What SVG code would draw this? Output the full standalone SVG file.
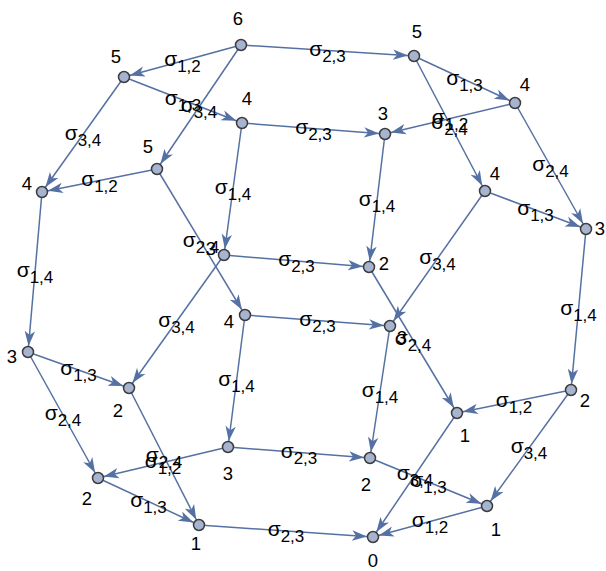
<svg xmlns="http://www.w3.org/2000/svg" width="606" height="571" viewBox="0 0 606 571">
<style>
.e{stroke:#5571a3;stroke-width:1.5;fill:none;marker-end:url(#ah)}
.el{font-family:"Liberation Sans",Arial,sans-serif;font-size:21px;fill:#000;text-anchor:middle}
.sub{font-size:17px}
.nd{fill:#a7b4d0;stroke:#3c3c3c;stroke-width:1.5}
.nl{font-family:"Liberation Sans",Arial,sans-serif;font-size:18.5px;fill:#000;text-anchor:middle}
</style>
<defs>
<marker id="ah" viewBox="0 0 22 12" markerWidth="22" markerHeight="12" refX="21" refY="6" orient="auto" markerUnits="userSpaceOnUse">
<path d="M15,6 L0,0.8 L4,6 L0,11.2 Z" fill="#5571a3"/>
</marker>
</defs>
<rect width="606" height="571" fill="#fff"/>
<g id="connectors">
<line class="e" x1="241" y1="45" x2="124" y2="77"/>
<line class="e" x1="241" y1="45" x2="414" y2="56"/>
<line class="e" x1="241" y1="45" x2="157" y2="169"/>
<line class="e" x1="124" y1="77" x2="42" y2="192"/>
<line class="e" x1="124" y1="77" x2="242" y2="123"/>
<line class="e" x1="414" y1="56" x2="515" y2="103"/>
<line class="e" x1="414" y1="56" x2="485" y2="191"/>
<line class="e" x1="515" y1="103" x2="385" y2="134"/>
<line class="e" x1="515" y1="103" x2="586" y2="229"/>
<line class="e" x1="242" y1="123" x2="385" y2="134"/>
<line class="e" x1="242" y1="123" x2="224" y2="255"/>
<line class="e" x1="157" y1="169" x2="42" y2="192"/>
<line class="e" x1="157" y1="169" x2="245" y2="315"/>
<line class="e" x1="385" y1="134" x2="369" y2="267"/>
<line class="e" x1="485" y1="191" x2="586" y2="229"/>
<line class="e" x1="485" y1="191" x2="390" y2="326"/>
<line class="e" x1="42" y1="192" x2="28" y2="352"/>
<line class="e" x1="586" y1="229" x2="571" y2="390"/>
<line class="e" x1="224" y1="255" x2="369" y2="267"/>
<line class="e" x1="224" y1="255" x2="129" y2="388"/>
<line class="e" x1="369" y1="267" x2="457" y2="413"/>
<line class="e" x1="245" y1="315" x2="390" y2="326"/>
<line class="e" x1="245" y1="315" x2="228" y2="447"/>
<line class="e" x1="390" y1="326" x2="370" y2="458"/>
<line class="e" x1="28" y1="352" x2="129" y2="388"/>
<line class="e" x1="28" y1="352" x2="98" y2="478"/>
<line class="e" x1="571" y1="390" x2="457" y2="413"/>
<line class="e" x1="571" y1="390" x2="487" y2="506"/>
<line class="e" x1="129" y1="388" x2="199" y2="525"/>
<line class="e" x1="228" y1="447" x2="98" y2="478"/>
<line class="e" x1="228" y1="447" x2="370" y2="458"/>
<line class="e" x1="370" y1="458" x2="487" y2="506"/>
<line class="e" x1="457" y1="413" x2="373" y2="537"/>
<line class="e" x1="98" y1="478" x2="199" y2="525"/>
<line class="e" x1="487" y1="506" x2="373" y2="537"/>
<line class="e" x1="199" y1="525" x2="373" y2="537"/>
<g id="edge-labels">
<text class="el" x="182.5" y="66">σ<tspan class="sub" dy="6">1,2</tspan></text>
<text class="el" x="327.5" y="55.5">σ<tspan class="sub" dy="6">2,3</tspan></text>
<text class="el" x="199" y="112">σ<tspan class="sub" dy="6">3,4</tspan></text>
<text class="el" x="83" y="139.5">σ<tspan class="sub" dy="6">3,4</tspan></text>
<text class="el" x="183" y="105">σ<tspan class="sub" dy="6">1,3</tspan></text>
<text class="el" x="464.5" y="84.5">σ<tspan class="sub" dy="6">1,3</tspan></text>
<text class="el" x="449.5" y="128.5">σ<tspan class="sub" dy="6">2,4</tspan></text>
<text class="el" x="450" y="123.5">σ<tspan class="sub" dy="6">1,2</tspan></text>
<text class="el" x="550.5" y="171">σ<tspan class="sub" dy="6">2,4</tspan></text>
<text class="el" x="313.5" y="133.5">σ<tspan class="sub" dy="6">2,3</tspan></text>
<text class="el" x="233" y="194">σ<tspan class="sub" dy="6">1,4</tspan></text>
<text class="el" x="99.5" y="185.5">σ<tspan class="sub" dy="6">1,2</tspan></text>
<text class="el" x="201" y="247">σ<tspan class="sub" dy="6">2,4</tspan></text>
<text class="el" x="377" y="205.5">σ<tspan class="sub" dy="6">1,4</tspan></text>
<text class="el" x="535.5" y="215">σ<tspan class="sub" dy="6">1,3</tspan></text>
<text class="el" x="437.5" y="263.5">σ<tspan class="sub" dy="6">3,4</tspan></text>
<text class="el" x="35" y="277">σ<tspan class="sub" dy="6">1,4</tspan></text>
<text class="el" x="578.5" y="314.5">σ<tspan class="sub" dy="6">1,4</tspan></text>
<text class="el" x="296.5" y="266">σ<tspan class="sub" dy="6">2,3</tspan></text>
<text class="el" x="176.5" y="326.5">σ<tspan class="sub" dy="6">3,4</tspan></text>
<text class="el" x="413" y="345">σ<tspan class="sub" dy="6">2,4</tspan></text>
<text class="el" x="317.5" y="325.5">σ<tspan class="sub" dy="6">2,3</tspan></text>
<text class="el" x="236.5" y="386">σ<tspan class="sub" dy="6">1,4</tspan></text>
<text class="el" x="380" y="397">σ<tspan class="sub" dy="6">1,4</tspan></text>
<text class="el" x="78.5" y="375">σ<tspan class="sub" dy="6">1,3</tspan></text>
<text class="el" x="63" y="420">σ<tspan class="sub" dy="6">2,4</tspan></text>
<text class="el" x="514" y="406.5">σ<tspan class="sub" dy="6">1,2</tspan></text>
<text class="el" x="529" y="453">σ<tspan class="sub" dy="6">3,4</tspan></text>
<text class="el" x="164" y="461.5">σ<tspan class="sub" dy="6">2,4</tspan></text>
<text class="el" x="163" y="467.5">σ<tspan class="sub" dy="6">1,2</tspan></text>
<text class="el" x="299" y="457.5">σ<tspan class="sub" dy="6">2,3</tspan></text>
<text class="el" x="428.5" y="487">σ<tspan class="sub" dy="6">1,3</tspan></text>
<text class="el" x="415" y="480">σ<tspan class="sub" dy="6">3,4</tspan></text>
<text class="el" x="148.5" y="506.5">σ<tspan class="sub" dy="6">1,3</tspan></text>
<text class="el" x="430" y="526.5">σ<tspan class="sub" dy="6">1,2</tspan></text>
<text class="el" x="286" y="536">σ<tspan class="sub" dy="6">2,3</tspan></text>
</g>
</g>
<g id="nodes">
<g id="v4321"><circle class="nd" cx="241" cy="45" r="5.5"/><text class="nl" x="238" y="25">6</text></g>
<g id="v4231"><circle class="nd" cx="414" cy="56" r="5.5"/><text class="nl" x="417" y="38">5</text></g>
<g id="v4312"><circle class="nd" cx="124" cy="77" r="5.5"/><text class="nl" x="116" y="63">5</text></g>
<g id="v4213"><circle class="nd" cx="515" cy="103" r="5.5"/><text class="nl" x="525" y="91">4</text></g>
<g id="v4132"><circle class="nd" cx="242" cy="123" r="5.5"/><text class="nl" x="247" y="105">4</text></g>
<g id="v4123"><circle class="nd" cx="385" cy="134" r="5.5"/><text class="nl" x="383" y="120">3</text></g>
<g id="v3421"><circle class="nd" cx="157" cy="169" r="5.5"/><text class="nl" x="148" y="153">5</text></g>
<g id="v3412"><circle class="nd" cx="42" cy="192" r="5.5"/><text class="nl" x="27" y="190">4</text></g>
<g id="v2431"><circle class="nd" cx="485" cy="191" r="5.5"/><text class="nl" x="495" y="180">4</text></g>
<g id="v2413"><circle class="nd" cx="586" cy="229" r="5.5"/><text class="nl" x="600" y="235">3</text></g>
<g id="v1432"><circle class="nd" cx="224" cy="255" r="5.5"/><text class="nl" x="211" y="255">3</text></g>
<g id="v1423"><circle class="nd" cx="369" cy="267" r="5.5"/><text class="nl" x="384" y="270">2</text></g>
<g id="v3241"><circle class="nd" cx="245" cy="315" r="5.5"/><text class="nl" x="229" y="328">4</text></g>
<g id="v2341"><circle class="nd" cx="390" cy="326" r="5.5"/><text class="nl" x="402" y="344">3</text></g>
<g id="v3142"><circle class="nd" cx="28" cy="352" r="5.5"/><text class="nl" x="12" y="363">3</text></g>
<g id="v1342"><circle class="nd" cx="129" cy="388" r="5.5"/><text class="nl" x="118" y="417">2</text></g>
<g id="v2143"><circle class="nd" cx="571" cy="390" r="5.5"/><text class="nl" x="585" y="407">2</text></g>
<g id="v1243"><circle class="nd" cx="457" cy="413" r="5.5"/><text class="nl" x="465" y="442">1</text></g>
<g id="v3214"><circle class="nd" cx="228" cy="447" r="5.5"/><text class="nl" x="228" y="480">3</text></g>
<g id="v2314"><circle class="nd" cx="370" cy="458" r="5.5"/><text class="nl" x="366" y="491">2</text></g>
<g id="v3124"><circle class="nd" cx="98" cy="478" r="5.5"/><text class="nl" x="87" y="505">2</text></g>
<g id="v2134"><circle class="nd" cx="487" cy="506" r="5.5"/><text class="nl" x="496" y="536">1</text></g>
<g id="v1324"><circle class="nd" cx="199" cy="525" r="5.5"/><text class="nl" x="196" y="550">1</text></g>
<g id="v1234"><circle class="nd" cx="373" cy="537" r="5.5"/><text class="nl" x="373" y="567">0</text></g>
</g>
</svg>
